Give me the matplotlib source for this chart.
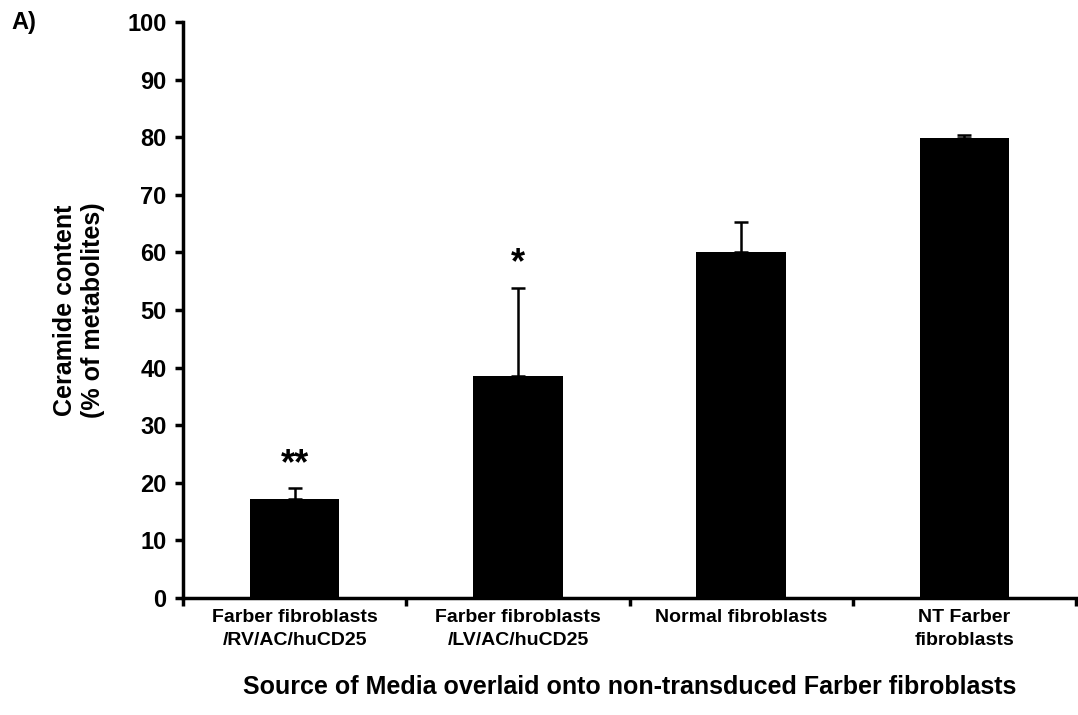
import numpy as np
import matplotlib.pyplot as plt

plt.rcParams['font.family'] = ['Liberation Sans', 'DejaVu Sans']
plt.rcParams['font.weight'] = 'bold'

categories = ['Farber fibroblasts\n/RV/AC/huCD25', 'Farber fibroblasts\n/LV/AC/huCD25',
              'Normal fibroblasts', 'NT Farber\nfibroblasts']
means = [17.2, 38.5, 60.1, 79.9]
errors = [1.8, 15.4, 5.1, 0.5]
stars = ['**', '*', '', '']

fig = plt.figure(figsize=(10.78, 7.15), dpi=100)
ax = fig.add_axes([0.17, 0.164, 0.828, 0.805])

x = np.arange(len(categories))
ax.bar(x, means, width=0.4, color='black', zorder=2)
ax.errorbar(x, means, yerr=[np.zeros(len(errors)), errors], fmt='none',
            ecolor='black', elinewidth=1.8, capsize=5, capthick=1.8, zorder=3)

for xi, m, e, s in zip(x, means, errors, stars):
    if s:
        ax.text(xi, m + e + 4.2, s, ha='center', va='center', fontsize=26, fontweight='bold')

ax.set_xlim(-0.5, 3.5)
ax.set_ylim(0, 100)
ax.set_yticks(range(0, 101, 10))
ax.set_xticks(np.arange(-0.5, 4, 1))
ax.set_xticklabels([])
ax.set_xticks(x, minor=True)
ax.set_xticklabels(categories, minor=True, fontsize=14, fontweight='bold', linespacing=1.45)
ax.tick_params(axis='x', which='minor', length=0, pad=8)
ax.tick_params(axis='x', which='major', length=6, width=2.5)
ax.tick_params(axis='y', length=6, width=2.5, labelsize=17, pad=6)
for lbl in ax.get_yticklabels():
    lbl.set_fontweight('bold')

for side in ['top', 'right']:
    ax.spines[side].set_visible(False)
for side in ['left', 'bottom']:
    ax.spines[side].set_linewidth(2.5)

ax.set_ylabel('Ceramide content\n(% of metabolites)', fontsize=18, fontweight='bold', labelpad=16)
ax.set_xlabel('Source of Media overlaid onto non-transduced Farber fibroblasts',
              fontsize=18, fontweight='bold', labelpad=19)

fig.text(0.011, 0.96, 'A)', fontsize=17, fontweight='bold')

fig.savefig('out.png', dpi=100)
